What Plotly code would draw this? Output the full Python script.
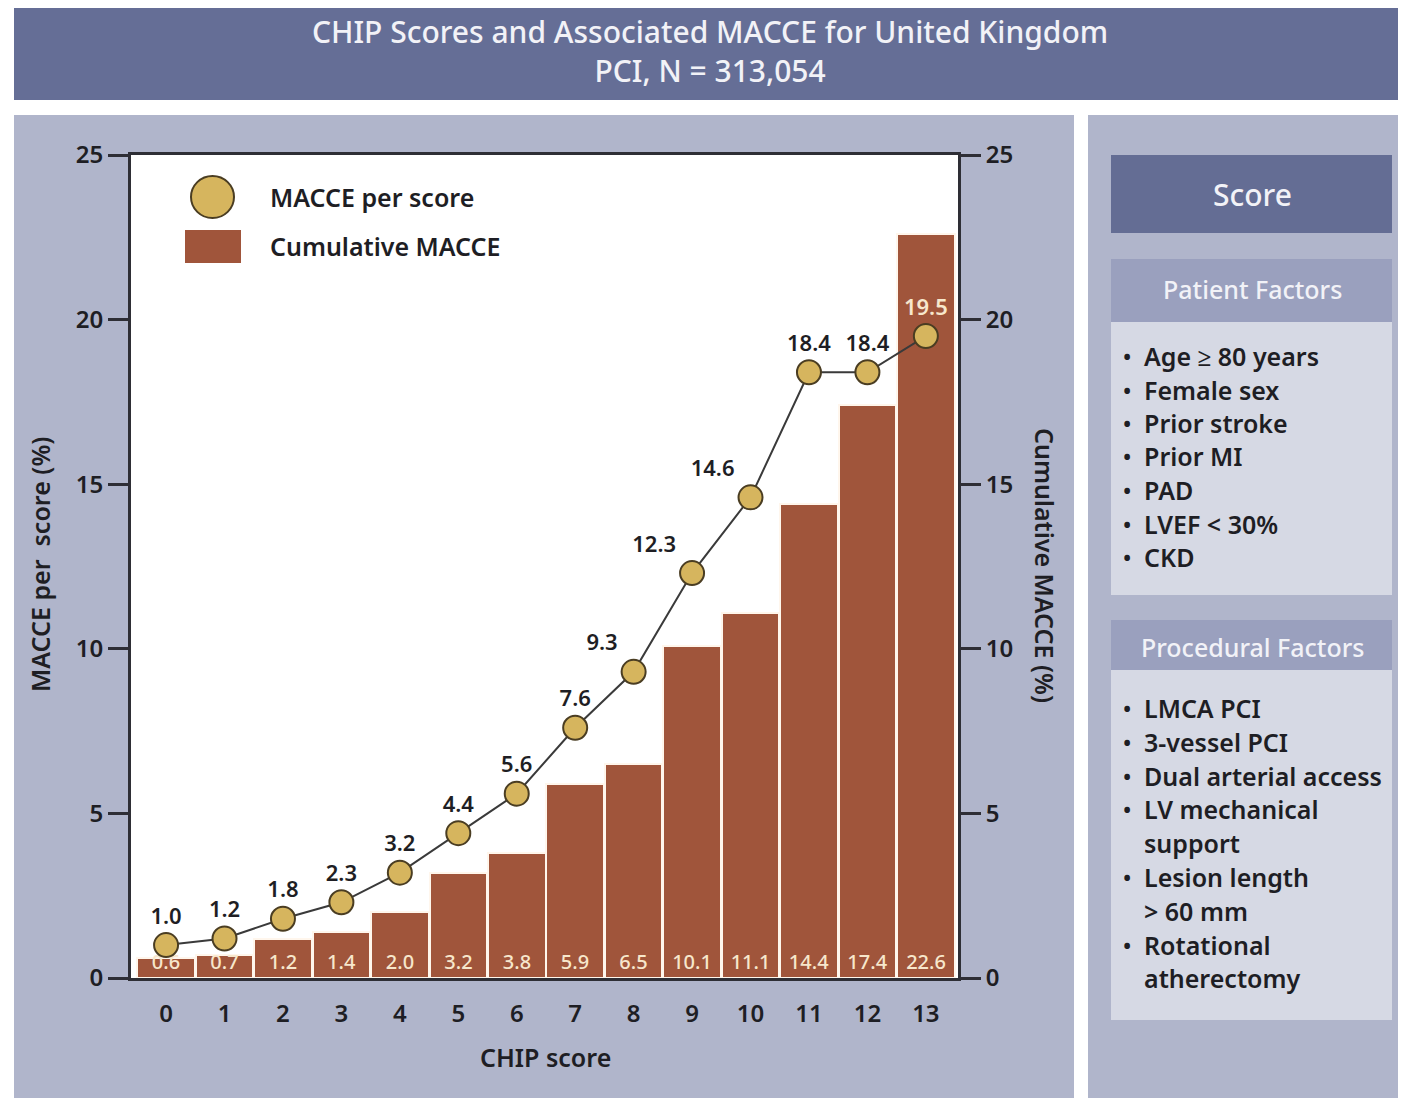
import plotly.graph_objects as go

# ---------------- data ----------------
chip_scores = list(range(14))
macce_per_score = [1.0, 1.2, 1.8, 2.3, 3.2, 4.4, 5.6, 7.6, 9.3, 12.3, 14.6, 18.4, 18.4, 19.5]
cumulative_macce = [0.6, 0.7, 1.2, 1.4, 2.0, 3.2, 3.8, 5.9, 6.5, 10.1, 11.1, 14.4, 17.4, 22.6]
y_ticks = [0, 5, 10, 15, 20, 25]
patient_factors = ["Age \u2265 80 years", "Female sex", "Prior stroke", "Prior MI", "PAD",
                   "LVEF < 30%", "CKD"]
procedural_factors = [["LMCA PCI"], ["3-vessel PCI"], ["Dual arterial access"],
                      ["LV mechanical", "support"], ["Lesion length", "> 60 mm"],
                      ["Rotational", "atherectomy"]]

# ---------------- geometry helpers ----------------
OFF = 8  # page margin of the browser
W, H = 1406 - OFF, 1098 - OFF
PL, PR, PT, PB = 131, 958, 155, 978  # plot area in reference pixels
FONT = "Noto Sans"
WT = 600


def px(x):
    return (x - PL) / (PR - PL)


def py(y):
    return (PB - y) / (PB - PT)


BAR_COLOR = "#A0553B"
DOT_COLOR = "#D6B55E"
TEXT_DARK = "#1E1E24"
CREAM = "#F7E7CC"

fig = go.Figure()

fig.add_trace(go.Bar(
    x=chip_scores, y=cumulative_macce, yaxis="y",
    marker=dict(color=BAR_COLOR, line=dict(color="#FFF6EC", width=2)),
    width=0.985,
    text=[f"{v:.1f}" for v in cumulative_macce],
    textposition="inside", insidetextanchor="start", textangle=0,
    constraintext="none",
    textfont=dict(family=FONT, size=20, color=CREAM, weight=500),
    showlegend=False, hoverinfo="skip", cliponaxis=False,
))

label_pos = ["top center"] * len(macce_per_score)
for i in (8, 9, 10):
    label_pos[i] = "top left"
label_colors = [TEXT_DARK] * (len(macce_per_score) - 1) + [CREAM]

fig.add_trace(go.Scatter(
    x=chip_scores, y=macce_per_score, mode="lines+markers+text", yaxis="y2",
    line=dict(color="#3A3A3A", width=2),
    marker=dict(size=24, color=DOT_COLOR, line=dict(color="#4A3D22", width=2)),
    text=[f"{v:.1f}" for v in macce_per_score],
    textposition=label_pos,
    textfont=dict(family=FONT, size=22, color=label_colors, weight=WT),
    showlegend=False, hoverinfo="skip", cliponaxis=False,
))

# ---------------- shapes (panels) ----------------
shapes = []


def rect(x0, y0, x1, y1, color):
    shapes.append(dict(type="rect", xref="paper", yref="paper",
                       x0=px(x0), x1=px(x1), y0=py(y1), y1=py(y0),
                       fillcolor=color, line=dict(width=0), layer="below"))


rect(14, 5, 1406, 100, "#656E96")
rect(14, 115, 1074, 1098, "#B0B5CB")
rect(1088, 115, 1406, 1098, "#B0B5CB")
rect(PL, PT, PR, PB, "#FFFFFF")
rect(1111, 155, 1392, 233, "#646D94")
rect(1111, 259, 1392, 322, "#9AA0BE")
rect(1111, 322, 1392, 595, "#D6D9E4")
rect(1111, 620, 1392, 670, "#9AA0BE")
rect(1111, 670, 1392, 1020, "#D6D9E4")

# legend marks
shapes.append(dict(type="circle", xref="paper", yref="paper",
                   x0=px(191), x1=px(234), y0=py(218), y1=py(176),
                   fillcolor=DOT_COLOR, line=dict(color="#4A3D22", width=2)))
shapes.append(dict(type="rect", xref="paper", yref="paper",
                   x0=px(185), x1=px(241), y0=py(263), y1=py(230),
                   fillcolor=BAR_COLOR, line=dict(width=0)))

annotations = []


def text(x, y, s, size, color=TEXT_DARK, xanchor="center", angle=0, weight=WT):
    annotations.append(dict(x=px(x), y=py(y), xref="paper", yref="paper", text=s,
                            showarrow=False, xanchor=xanchor, yanchor="middle",
                            textangle=angle,
                            font=dict(family=FONT, size=size, color=color, weight=weight)))


text(710, 51, "CHIP Scores and Associated MACCE for United Kingdom<br>PCI, N = 313,054", 30,
     "#F2F2F7", weight=500)
text(268, 197, "MACCE per score", 25, xanchor="left")
text(268, 246, "Cumulative MACCE", 25, xanchor="left")
text(40, 565, "MACCE per  score (%)", 25, angle=-90)
text(1045, 565, "Cumulative MACCE (%)", 25, angle=90)
text(545, 1057, "CHIP score", 25)

text(1252, 195, "Score", 30, "#F2F2F7", weight=500)
text(1252, 289, "Patient Factors", 25, "#F2F2F7", weight=500)
text(1252, 647, "Procedural Factors", 25, "#F2F2F7", weight=500)

y = 356
for item in patient_factors:
    text(1121, y, "\u2022", 22, xanchor="left")
    text(1142, y, item, 25, xanchor="left")
    y += 33.5

y = 708
for item in procedural_factors:
    text(1121, y, "\u2022", 22, xanchor="left")
    for part in item:
        text(1142, y, part, 25, xanchor="left")
        y += 33.8

axis_common = dict(range=[0, 25], tickvals=y_ticks, ticks="outside", ticklen=20,
                   tickwidth=2.5, tickcolor="#2E2E35", showgrid=False, zeroline=False,
                   tickfont=dict(family=FONT, size=24, color=TEXT_DARK, weight=WT),
                   showline=True, linecolor="#2E2E35", linewidth=3)

fig.update_layout(
    width=W, height=H,
    margin=dict(l=PL - OFF, r=1406 - PR, t=PT - OFF, b=1098 - PB, pad=0),
    paper_bgcolor="#FFFFFF", plot_bgcolor="rgba(0,0,0,0)",
    bargap=0,
    xaxis=dict(range=[-0.6, 13.55], tickvals=chip_scores, ticks="", showgrid=False,
               zeroline=False, showline=True, mirror=True, linecolor="#2E2E35", linewidth=3,
               ticklabelstandoff=12,
               tickfont=dict(family=FONT, size=24, color=TEXT_DARK, weight=WT)),
    yaxis=dict(**axis_common, side="left"),
    yaxis2=dict(**axis_common, side="right", overlaying="y"),
    shapes=shapes, annotations=annotations,
    showlegend=False,
)

fig.write_html("out.html")
